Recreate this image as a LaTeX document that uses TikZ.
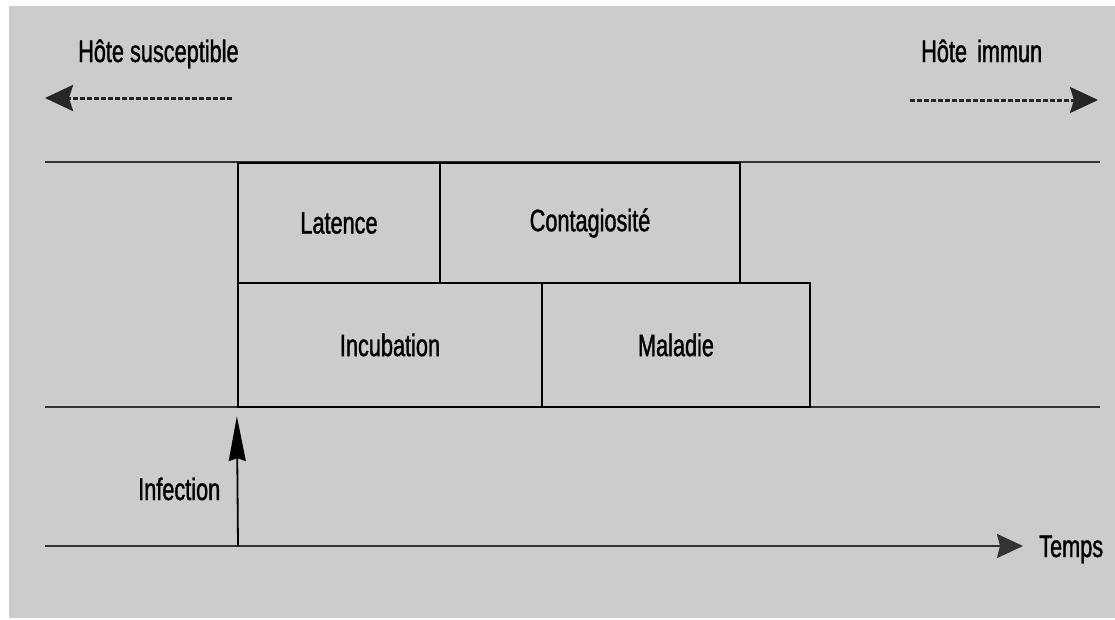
\documentclass[tikz,border=0pt]{standalone}
\usepackage{fontspec}
\newfontfamily\nar{Liberation Sans}[FakeStretch=0.7,FakeBold=1.2]
\usetikzlibrary{arrows.meta}
\definecolor{bg}{HTML}{CCCCCC}
\definecolor{ln}{HTML}{333333}
\begin{document}
\begin{tikzpicture}[x=1pt,y=-1pt,
  lbl/.style={font=\nar\fontsize{31}{36}\selectfont, text=black, inner sep=0pt},
  phase/.style={draw=black, line width=2.2pt, inner sep=0pt, font=\nar\fontsize{31}{36}\selectfont},
  hline/.style={draw=ln, line width=2.4pt},
  dasharrow/.style={draw=black!85, line width=3pt, dash pattern=on 5pt off 2pt, -{Stealth[length=28pt,width=26pt,inset=4pt]}},
  axisarrow/.style={draw=ln, line width=2.4pt, -{Stealth[length=26pt,width=24pt,inset=3pt]}},
  infarrow/.style={draw=black, line width=1.8pt, -{Stealth[length=45pt,width=17pt,inset=3pt]}}]
\useasboundingbox (0,0) rectangle (1115,619);
\fill[white] (0,0) rectangle (1115,619);
\fill[bg] (9,6) rectangle (1115,618);

% horizontal lines
\coordinate (tl) at (45,162);
\coordinate (tr) at (1100,162);
\coordinate (bl) at (45,407);
\coordinate (br) at (1100,407);
\coordinate (al) at (45,546);
\coordinate (ar) at (1023,546);
\coordinate (a0) at (238,546);
\draw[hline] (tl) -- (tr);
\draw[hline] (bl) -- (br);
\draw[axisarrow] (al) -- (ar);

% phases
\node[phase, minimum width=202pt, minimum height=120pt] (lat) at (339,223) {Latence};
\node[phase, minimum width=300pt, minimum height=120pt] (con) at (590,223) {Contagiosité};
\node[phase, minimum width=304pt, minimum height=124pt] (inc) at (390,345) {Incubation};
\node[phase, minimum width=268pt, minimum height=124pt] (mal) at (676,345) {Maladie};

% top labels and dashed arrows
\node[lbl, anchor=base west] (hs) at (78,62) {Hôte susceptible};
\node[lbl, anchor=base west] (hi) at (921,62) {Hôte\hspace{4pt} immun};
\coordinate (ls) at (232,98);
\coordinate (le) at (45,98);
\coordinate (rs) at (910,100);
\coordinate (re) at (1098,100);
\draw[dasharrow] (ls) -- (le);
\draw[dasharrow] (rs) -- (re);

% infection
\draw[infarrow] (a0) -- ([yshift=-8pt]inc.south west);
\node[lbl, anchor=base west] (inf) at (138,500) {Infection};
\node[lbl, anchor=base west] (tmp) at (1039,557) {Temps};
\end{tikzpicture}
\end{document}
